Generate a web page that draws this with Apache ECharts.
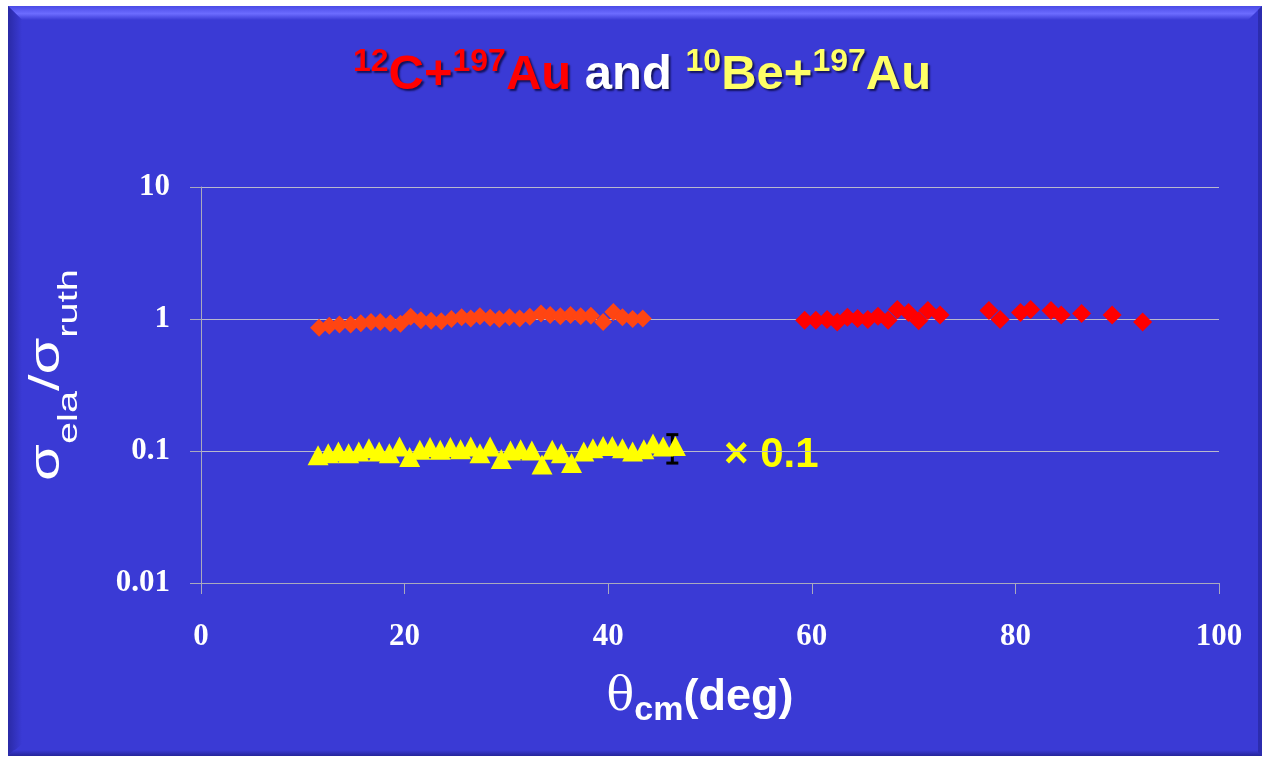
<!DOCTYPE html>
<html>
<head>
<meta charset="utf-8">
<title>12C+197Au and 10Be+197Au elastic scattering</title>
<script src="https://cdn.jsdelivr.net/npm/echarts@6.0.0/dist/echarts.min.js"></script>
<style>
  html, body { margin: 0; padding: 0; background: #ffffff; width: 1263px; height: 758px; overflow: hidden; }
  #chart { position: absolute; left: 8px; top: 6px; width: 1254px; height: 750px; }
</style>
</head>
<body>
<div id="chart"></div>
<script>
// Axis ticks
const angleTicks = [0, 20, 40, 60, 80, 100];
const ratioTickLabels = ['0.01', '0.1', '1', '10'];

// 12C + 197Au, forward-angle set: [theta_cm (deg), sigma_ela / sigma_ruth]
const c12ForwardSet = [
  [11.6, 0.86], [12.6, 0.89], [13.6, 0.91], [14.7, 0.91], [15.7, 0.93],
  [16.7, 0.95], [17.6, 0.95], [18.6, 0.93], [19.6, 0.92], [20.6, 1.04],
  [21.6, 0.98], [22.6, 0.97], [23.6, 0.96], [24.6, 1.00], [25.6, 1.03],
  [26.5, 1.01], [27.4, 1.05], [28.4, 1.02], [29.3, 1.00], [30.3, 1.03],
  [31.3, 1.01], [32.3, 1.04], [33.4, 1.10], [34.3, 1.07], [35.3, 1.05],
  [36.3, 1.07], [37.3, 1.05], [38.3, 1.06], [39.5, 0.95], [40.5, 1.13],
  [41.4, 1.03], [42.4, 1.00], [43.4, 1.01]
];

// 12C + 197Au, backward-angle set
const c12BackwardSet = [
  [59.3, 0.98], [60.4, 0.98], [61.5, 0.99], [62.5, 0.95], [63.5, 1.03],
  [64.5, 1.01], [65.5, 0.99], [66.5, 1.05], [67.5, 0.98], [68.4, 1.18],
  [69.5, 1.12], [70.5, 0.97], [71.4, 1.16], [72.6, 1.07],
  [77.4, 1.16], [78.5, 0.99], [80.5, 1.12], [81.5, 1.18], [83.5, 1.16],
  [84.5, 1.07], [86.5, 1.10], [89.5, 1.07], [92.5, 0.95]
];

// 10Be + 197Au, plotted multiplied by 0.1
const be10Set = [
  [11.5, 0.093], [12.5, 0.096], [13.5, 0.099], [14.5, 0.096], [15.5, 0.099],
  [16.5, 0.105], [17.5, 0.099], [18.5, 0.096], [19.5, 0.108], [20.5, 0.090],
  [21.5, 0.102], [22.5, 0.107], [23.5, 0.102], [24.5, 0.107], [25.5, 0.103],
  [26.5, 0.108], [27.4, 0.096], [28.4, 0.108], [29.5, 0.087], [30.4, 0.101],
  [31.4, 0.103], [32.5, 0.101], [33.5, 0.079], [34.5, 0.102], [35.4, 0.096],
  [36.4, 0.081], [37.6, 0.099], [38.5, 0.105], [39.5, 0.109], [40.4, 0.109],
  [41.4, 0.105], [42.4, 0.099], [43.5, 0.103], [44.4, 0.114], [45.4, 0.108],
  [46.6, 0.109]
];

// Error bar on the last 10Be point: [theta, low, high]
const be10ErrorBar = [[46.3, 0.081, 0.133]];

const panelBlue = '#3A3AD5';
const axisGray = '#A9A9BE';
const gridGray = '#B9B9CC';

const chart = echarts.init(document.getElementById('chart'), null, { renderer: 'canvas' });

const titleShadow = { textShadowColor: 'rgba(0,0,40,0.7)', textShadowOffsetX: 2, textShadowOffsetY: 2, textShadowBlur: 2 };
const titleMain = Object.assign({ fontFamily: 'Liberation Sans', fontWeight: 'bold', fontSize: 49, lineHeight: 58 }, titleShadow);
const titleSup = Object.assign({ fontFamily: 'Liberation Sans', fontWeight: 'bold', fontSize: 32, lineHeight: 32, verticalAlign: 'top' }, titleShadow);

const option = {
  backgroundColor: panelBlue,
  animation: false,
  grid: { left: 193, right: 43, top: 181, bottom: 173, containLabel: false },
  xAxis: {
    type: 'value',
    min: angleTicks[0],
    max: angleTicks[angleTicks.length - 1],
    interval: 20,
    axisLine: { show: true, onZero: false, lineStyle: { color: axisGray, width: 1 } },
    axisTick: { show: true, inside: false, length: 11, lineStyle: { color: axisGray } },
    splitLine: { show: false },
    axisLabel: {
      color: '#ffffff', fontFamily: 'Liberation Serif', fontWeight: 'bold', fontSize: 31,
      margin: 38
    }
  },
  yAxis: {
    type: 'log',
    logBase: 10,
    min: 0.01,
    max: 10,
    axisLine: { show: true, lineStyle: { color: axisGray, width: 1 } },
    axisTick: { show: true, inside: false, length: 11, lineStyle: { color: axisGray } },
    minorTick: { show: false },
    splitLine: { show: true, lineStyle: { color: gridGray, width: 1 } },
    axisLabel: {
      color: '#ffffff', fontFamily: 'Liberation Serif', fontWeight: 'bold', fontSize: 31,
      margin: 31,
      formatter: function (v) {
        const i = Math.round(Math.log10(v)) + 2;
        return ratioTickLabels[i];
      }
    }
  },
  series: [
    {
      name: '10Be+197Au error',
      type: 'custom',
      z: 1,
      data: be10ErrorBar,
      encode: { x: 0, y: [1, 2] },
      renderItem: function (params, api) {
        const x = api.value(0);
        const pLo = api.coord([x, api.value(1)]);
        const pHi = api.coord([x, api.value(2)]);
        const half = 6;
        const st = { stroke: '#000000', lineWidth: 3 };
        return {
          type: 'group',
          children: [
            { type: 'line', shape: { x1: pLo[0], y1: pLo[1], x2: pHi[0], y2: pHi[1] }, style: st },
            { type: 'line', shape: { x1: pLo[0] - half, y1: pLo[1], x2: pLo[0] + half, y2: pLo[1] }, style: st },
            { type: 'line', shape: { x1: pHi[0] - half, y1: pHi[1], x2: pHi[0] + half, y2: pHi[1] }, style: st }
          ]
        };
      }
    },
    {
      name: '10Be+197Au',
      type: 'scatter',
      z: 2,
      symbol: 'triangle',
      symbolSize: [21, 20],
      itemStyle: { color: '#FFFF00', opacity: 1 },
      data: be10Set
    },
    {
      name: '12C+197Au forward',
      type: 'scatter',
      z: 3,
      symbol: 'diamond',
      symbolSize: 18,
      itemStyle: { color: '#FF4512', opacity: 1 },
      data: c12ForwardSet
    },
    {
      name: '12C+197Au backward',
      type: 'scatter',
      z: 3,
      symbol: 'diamond',
      symbolSize: 19,
      itemStyle: { color: '#FF0000', opacity: 1 },
      data: c12BackwardSet
    }
  ],
  graphic: [
    // bevelled panel edges
    {
      type: 'polygon', silent: true,
      shape: { points: [[0, 0], [1254, 0], [1240, 14], [14, 14]] },
      style: {
        fill: new echarts.graphic.LinearGradient(0, 0, 0, 1, [
          { offset: 0, color: '#4A4AE6' },
          { offset: 0.55, color: '#6C6CFF' },
          { offset: 1, color: panelBlue }
        ])
      }
    },
    {
      type: 'polygon', silent: true,
      shape: { points: [[0, 0], [14, 14], [14, 738], [0, 750]] },
      style: {
        fill: new echarts.graphic.LinearGradient(0, 0, 1, 0, [
          { offset: 0, color: '#2A2AA6' },
          { offset: 1, color: panelBlue }
        ])
      }
    },
    {
      type: 'polygon', silent: true,
      shape: { points: [[0, 750], [6, 744], [1250, 744], [1254, 750]] },
      style: {
        fill: new echarts.graphic.LinearGradient(0, 0, 0, 1, [
          { offset: 0, color: panelBlue },
          { offset: 1, color: '#25259A' }
        ])
      }
    },
    {
      type: 'polygon', silent: true,
      shape: { points: [[1254, 0], [1254, 750], [1250, 746], [1250, 4]] },
      style: { fill: '#2C2CAE' }
    },
    // title
    {
      type: 'text', silent: true,
      x: 634, y: 40,
      style: {
        text: '{rs|12}{r|C+}{rs|197}{r|Au}{w| and }{ys|10}{y|Be+}{ys|197}{y|Au}',
        align: 'center', verticalAlign: 'top',
        rich: {
          r:  Object.assign({ fill: '#FF0000' }, titleMain),
          rs: Object.assign({ fill: '#FF0000' }, titleSup),
          w:  Object.assign({ fill: '#FFFFFF' }, titleMain),
          y:  Object.assign({ fill: '#FFFF66' }, titleMain),
          ys: Object.assign({ fill: '#FFFF66' }, titleSup)
        }
      }
    },
    // y-axis title
    {
      type: 'text', silent: true,
      x: 39, y: 369, rotation: Math.PI / 2, scaleX: 1.42, scaleY: 1,
      style: {
        text: '{s|σ}{sub|ela}{s|/σ}{sub|ruth}',
        align: 'center', verticalAlign: 'middle',
        rich: {
          s:   { fill: '#FFFFFF', fontFamily: 'Liberation Sans', fontSize: 42, lineHeight: 72 },
          sub: { fill: '#FFFFFF', fontFamily: 'Liberation Sans', fontSize: 28, lineHeight: 28, verticalAlign: 'bottom' }
        }
      }
    },
    // x-axis title
    {
      type: 'text', silent: true,
      x: 692, y: 692,
      style: {
        text: '{t|θ}{sub|cm}{m|(deg)}',
        align: 'center', verticalAlign: 'middle',
        rich: {
          t:   { fill: '#FFFFFF', fontFamily: 'DejaVu Serif', fontSize: 46, lineHeight: 60 },
          sub: { fill: '#FFFFFF', fontFamily: 'Liberation Sans', fontWeight: 'bold', fontSize: 34, lineHeight: 34, verticalAlign: 'bottom' },
          m:   { fill: '#FFFFFF', fontFamily: 'Liberation Sans', fontWeight: 'bold', fontSize: 45, lineHeight: 60 }
        }
      }
    },
    // scale note for the 10Be set
    {
      type: 'text', silent: true,
      x: 716, y: 449,
      style: {
        text: '× 0.1',
        fill: '#FFFF00',
        fontFamily: 'Liberation Sans', fontWeight: 'bold', fontSize: 42,
        align: 'left', verticalAlign: 'middle'
      }
    }
  ]
};

chart.setOption(option);
</script>
</body>
</html>
